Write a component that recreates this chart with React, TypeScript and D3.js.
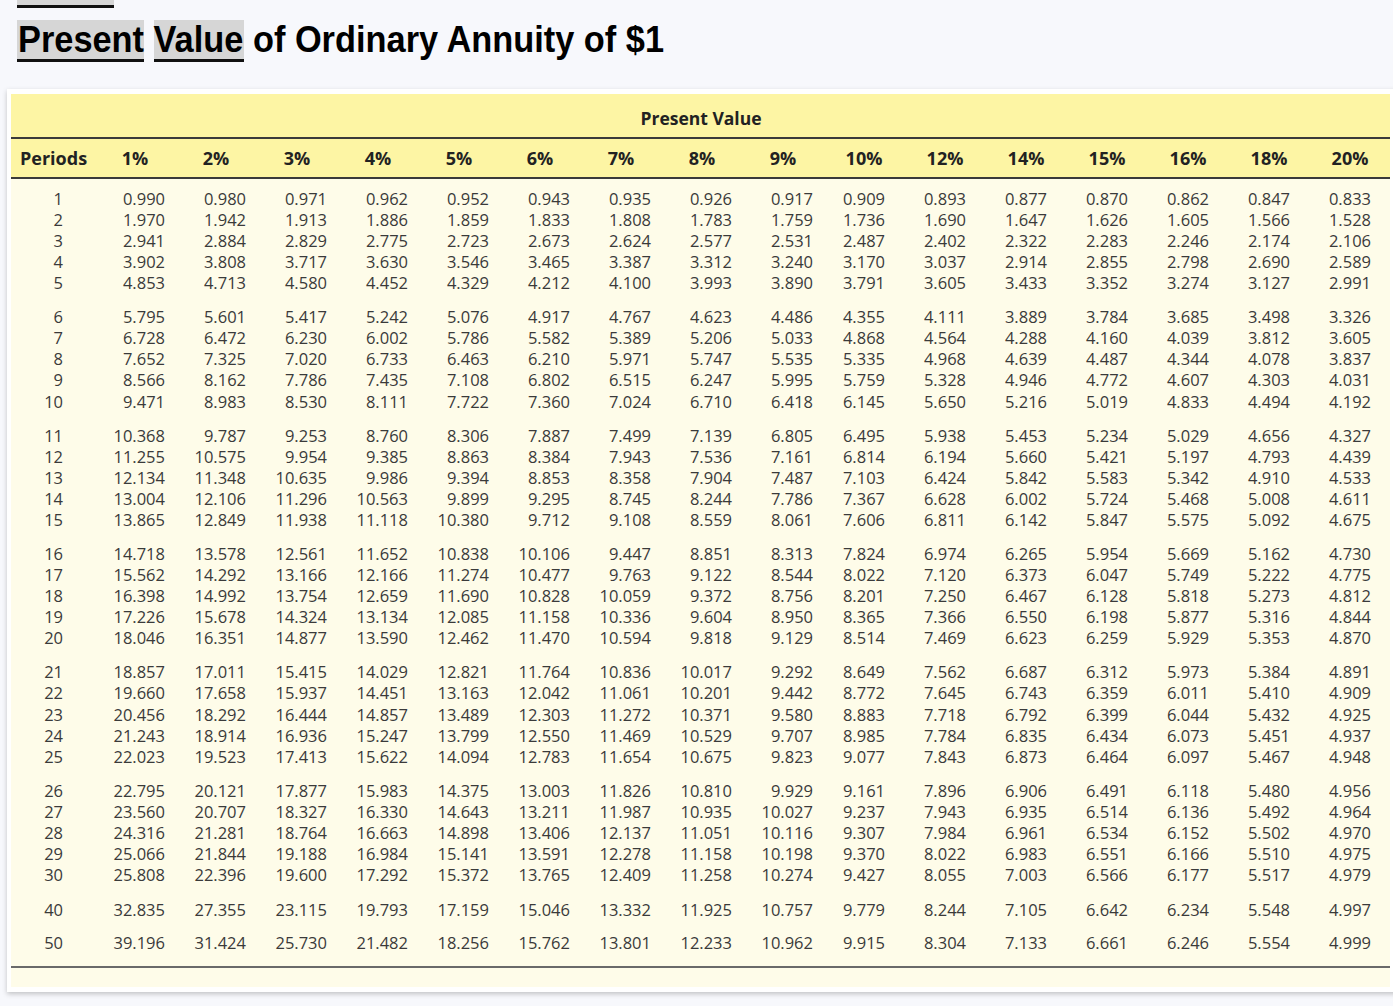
import React from "react";
import * as d3 from "d3";

const titleText = "Present Value of Ordinary Annuity of $1";
const groupHeader = "Present Value";
const periodHeader = "Periods";
const rateLabels = ["1%", "2%", "3%", "4%", "5%", "6%", "7%", "8%", "9%", "10%", "12%", "14%", "15%", "16%", "18%", "20%"];
const periods = [1, 2, 3, 4, 5, 6, 7, 8, 9, 10, 11, 12, 13, 14, 15, 16, 17, 18, 19, 20, 21, 22, 23, 24, 25, 26, 27, 28, 29, 30, 40, 50];

const pv01 = [0.990, 1.970, 2.941, 3.902, 4.853, 5.795, 6.728, 7.652, 8.566, 9.471, 10.368, 11.255, 12.134, 13.004, 13.865, 14.718, 15.562, 16.398, 17.226, 18.046, 18.857, 19.660, 20.456, 21.243, 22.023, 22.795, 23.560, 24.316, 25.066, 25.808, 32.835, 39.196];
const pv02 = [0.980, 1.942, 2.884, 3.808, 4.713, 5.601, 6.472, 7.325, 8.162, 8.983, 9.787, 10.575, 11.348, 12.106, 12.849, 13.578, 14.292, 14.992, 15.678, 16.351, 17.011, 17.658, 18.292, 18.914, 19.523, 20.121, 20.707, 21.281, 21.844, 22.396, 27.355, 31.424];
const pv03 = [0.971, 1.913, 2.829, 3.717, 4.580, 5.417, 6.230, 7.020, 7.786, 8.530, 9.253, 9.954, 10.635, 11.296, 11.938, 12.561, 13.166, 13.754, 14.324, 14.877, 15.415, 15.937, 16.444, 16.936, 17.413, 17.877, 18.327, 18.764, 19.188, 19.600, 23.115, 25.730];
const pv04 = [0.962, 1.886, 2.775, 3.630, 4.452, 5.242, 6.002, 6.733, 7.435, 8.111, 8.760, 9.385, 9.986, 10.563, 11.118, 11.652, 12.166, 12.659, 13.134, 13.590, 14.029, 14.451, 14.857, 15.247, 15.622, 15.983, 16.330, 16.663, 16.984, 17.292, 19.793, 21.482];
const pv05 = [0.952, 1.859, 2.723, 3.546, 4.329, 5.076, 5.786, 6.463, 7.108, 7.722, 8.306, 8.863, 9.394, 9.899, 10.380, 10.838, 11.274, 11.690, 12.085, 12.462, 12.821, 13.163, 13.489, 13.799, 14.094, 14.375, 14.643, 14.898, 15.141, 15.372, 17.159, 18.256];
const pv06 = [0.943, 1.833, 2.673, 3.465, 4.212, 4.917, 5.582, 6.210, 6.802, 7.360, 7.887, 8.384, 8.853, 9.295, 9.712, 10.106, 10.477, 10.828, 11.158, 11.470, 11.764, 12.042, 12.303, 12.550, 12.783, 13.003, 13.211, 13.406, 13.591, 13.765, 15.046, 15.762];
const pv07 = [0.935, 1.808, 2.624, 3.387, 4.100, 4.767, 5.389, 5.971, 6.515, 7.024, 7.499, 7.943, 8.358, 8.745, 9.108, 9.447, 9.763, 10.059, 10.336, 10.594, 10.836, 11.061, 11.272, 11.469, 11.654, 11.826, 11.987, 12.137, 12.278, 12.409, 13.332, 13.801];
const pv08 = [0.926, 1.783, 2.577, 3.312, 3.993, 4.623, 5.206, 5.747, 6.247, 6.710, 7.139, 7.536, 7.904, 8.244, 8.559, 8.851, 9.122, 9.372, 9.604, 9.818, 10.017, 10.201, 10.371, 10.529, 10.675, 10.810, 10.935, 11.051, 11.158, 11.258, 11.925, 12.233];
const pv09 = [0.917, 1.759, 2.531, 3.240, 3.890, 4.486, 5.033, 5.535, 5.995, 6.418, 6.805, 7.161, 7.487, 7.786, 8.061, 8.313, 8.544, 8.756, 8.950, 9.129, 9.292, 9.442, 9.580, 9.707, 9.823, 9.929, 10.027, 10.116, 10.198, 10.274, 10.757, 10.962];
const pv10 = [0.909, 1.736, 2.487, 3.170, 3.791, 4.355, 4.868, 5.335, 5.759, 6.145, 6.495, 6.814, 7.103, 7.367, 7.606, 7.824, 8.022, 8.201, 8.365, 8.514, 8.649, 8.772, 8.883, 8.985, 9.077, 9.161, 9.237, 9.307, 9.370, 9.427, 9.779, 9.915];
const pv12 = [0.893, 1.690, 2.402, 3.037, 3.605, 4.111, 4.564, 4.968, 5.328, 5.650, 5.938, 6.194, 6.424, 6.628, 6.811, 6.974, 7.120, 7.250, 7.366, 7.469, 7.562, 7.645, 7.718, 7.784, 7.843, 7.896, 7.943, 7.984, 8.022, 8.055, 8.244, 8.304];
const pv14 = [0.877, 1.647, 2.322, 2.914, 3.433, 3.889, 4.288, 4.639, 4.946, 5.216, 5.453, 5.660, 5.842, 6.002, 6.142, 6.265, 6.373, 6.467, 6.550, 6.623, 6.687, 6.743, 6.792, 6.835, 6.873, 6.906, 6.935, 6.961, 6.983, 7.003, 7.105, 7.133];
const pv15 = [0.870, 1.626, 2.283, 2.855, 3.352, 3.784, 4.160, 4.487, 4.772, 5.019, 5.234, 5.421, 5.583, 5.724, 5.847, 5.954, 6.047, 6.128, 6.198, 6.259, 6.312, 6.359, 6.399, 6.434, 6.464, 6.491, 6.514, 6.534, 6.551, 6.566, 6.642, 6.661];
const pv16 = [0.862, 1.605, 2.246, 2.798, 3.274, 3.685, 4.039, 4.344, 4.607, 4.833, 5.029, 5.197, 5.342, 5.468, 5.575, 5.669, 5.749, 5.818, 5.877, 5.929, 5.973, 6.011, 6.044, 6.073, 6.097, 6.118, 6.136, 6.152, 6.166, 6.177, 6.234, 6.246];
const pv18 = [0.847, 1.566, 2.174, 2.690, 3.127, 3.498, 3.812, 4.078, 4.303, 4.494, 4.656, 4.793, 4.910, 5.008, 5.092, 5.162, 5.222, 5.273, 5.316, 5.353, 5.384, 5.410, 5.432, 5.451, 5.467, 5.480, 5.492, 5.502, 5.510, 5.517, 5.548, 5.554];
const pv20 = [0.833, 1.528, 2.106, 2.589, 2.991, 3.326, 3.605, 3.837, 4.031, 4.192, 4.327, 4.439, 4.533, 4.611, 4.675, 4.730, 4.775, 4.812, 4.844, 4.870, 4.891, 4.909, 4.925, 4.937, 4.948, 4.956, 4.964, 4.970, 4.975, 4.979, 4.997, 4.999];

const columns = [pv01, pv02, pv03, pv04, pv05, pv06, pv07, pv08, pv09, pv10, pv12, pv14, pv15, pv16, pv18, pv20];

export default function App() {
  const W = 1393;
  const H = 1006;
  const fmt = d3.format(".3f");
  const x = d3.scaleLinear().domain([0, rateLabels.length - 1]).range([135, 1350]);
  const groupY = d3.scaleLinear().domain([0, 5]).range([199, 791]);
  const extraY = d3.scaleLinear().domain([0, 1]).range([910, 943]);
  const rowY = (i: number) => (i < 30 ? groupY(Math.floor(i / 5)) + (i % 5) * 21.1 : extraY(i - 30));

  const dataFont = "'Open Sans', 'Noto Sans', sans-serif";

  return (
    <div style={{ position: "absolute", left: 0, top: 0, width: W, height: H, background: "#f7f8fc" }}>
      <svg width={W} height={H} style={{ display: "block" }}>
        <defs>
          <filter id="shadow" x="-5%" y="-5%" width="110%" height="110%">
            <feDropShadow dx="0" dy="2" stdDeviation="2.5" floodColor="#000" floodOpacity="0.22" />
          </filter>
        </defs>
        <rect x={0} y={0} width={W} height={H} fill="#f7f8fc" />

        {/* cut-off element at top */}
        <rect x={17} y={0} width={97} height={5} fill="#d6d6d6" />
        <rect x={17} y={5} width={97} height={3} fill="#111" />

        {/* title highlights */}
        <rect x={17} y={20} width={127} height={39} fill="#d6d6d6" />
        <rect x={17} y={59} width={127} height={3} fill="#111" />
        <rect x={154} y={20} width={90} height={39} fill="#d6d6d6" />
        <rect x={154} y={59} width={90} height={3} fill="#111" />
        <text
          x={18}
          y={52}
          fontFamily="'Liberation Sans', Arial, sans-serif"
          fontWeight={700}
          fontSize={37.5}
          fill="#000"
          textLength={646}
          lengthAdjust="spacingAndGlyphs"
        >
          {titleText}
        </text>

        {/* card */}
        <rect x={7} y={89} width={1392} height={903} fill="#ffffff" filter="url(#shadow)" />
        <rect x={11} y={94} width={1379} height={84} fill="#fdf5a4" />
        <rect x={11} y={178} width={1379} height={809} fill="#fefce9" />
        <rect x={11} y={137} width={1379} height={2} fill="#3a3a3a" />
        <rect x={11} y={177} width={1379} height={2} fill="#3a3a3a" />
        <rect x={11} y={966} width={1379} height={2} fill="#6a6a6a" />

        <text x={701} y={119} dy="0.35em" textAnchor="middle" fontFamily={dataFont} fontWeight={700} fontSize={17.5} fill="#222">
          {groupHeader}
        </text>
        <text x={20} y={159} dy="0.35em" fontFamily={dataFont} fontWeight={700} fontSize={18} fill="#222">
          {periodHeader}
        </text>
        {rateLabels.map((r, j) => (
          <text key={r} x={x(j)} y={159} dy="0.35em" textAnchor="middle" fontFamily={dataFont} fontWeight={700} fontSize={18} fill="#222">
            {r}
          </text>
        ))}

        {periods.map((p, i) => (
          <text key={"p" + p} x={63} y={rowY(i)} dy="0.35em" textAnchor="end" fontFamily={dataFont} fontSize={16.5} fill="#3a3a3a">
            {p}
          </text>
        ))}

        {columns.map((col, j) => {
          const wide = d3.max(col)! >= 10;
          const right = x(j) + (wide ? 30 : 21);
          return col.map((v, i) => (
            <text key={j + "-" + i} x={right} y={rowY(i)} dy="0.35em" textAnchor="end" fontFamily={dataFont} fontSize={16.5} fill="#3a3a3a">
              {fmt(v)}
            </text>
          ));
        })}
      </svg>
    </div>
  );
}
